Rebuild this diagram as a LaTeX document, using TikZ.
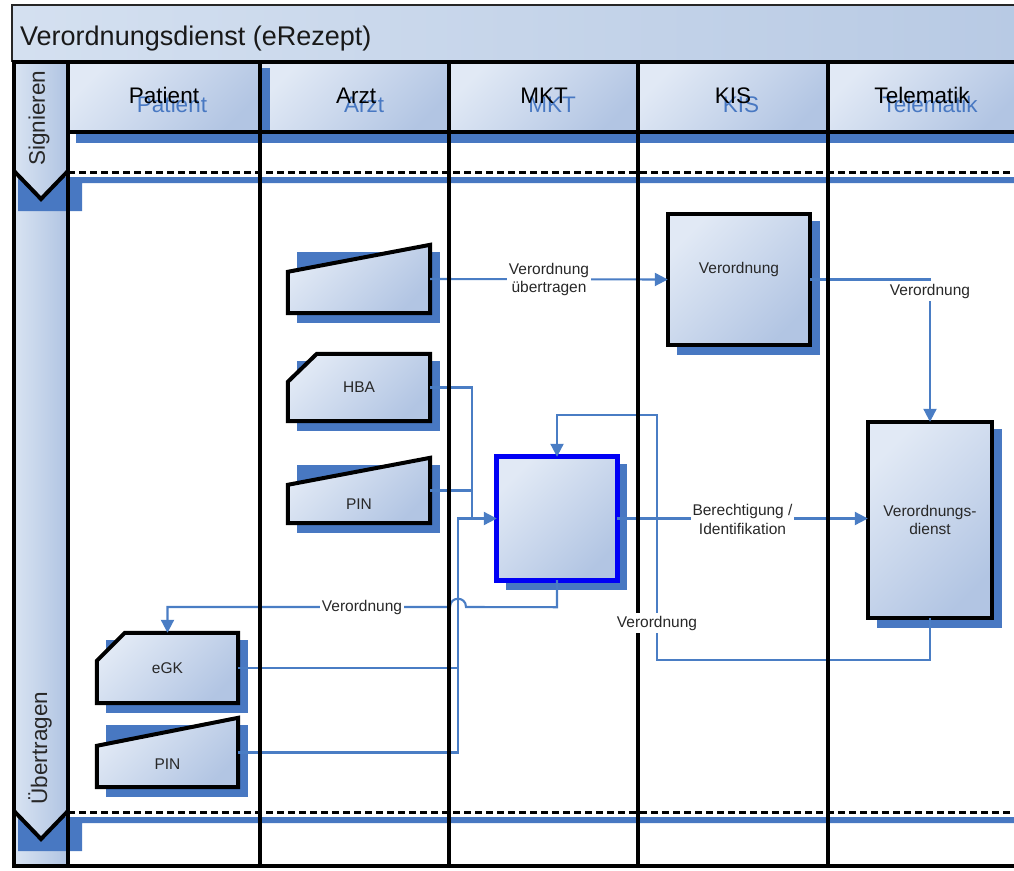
\documentclass[tikz,border=0pt]{standalone}
\usepackage{fontspec}
\setmainfont{Liberation Sans}
\usetikzlibrary{arrows.meta,calc}
\definecolor{wirec}{RGB}{74,125,196}
\definecolor{shad}{RGB}{72,120,194}
\definecolor{lite}{RGB}{225,233,245}
\definecolor{dark}{RGB}{178,197,227}
\definecolor{titl}{RGB}{212,224,240}
\definecolor{titr}{RGB}{184,202,228}
\definecolor{coll}{RGB}{216,227,242}
\definecolor{colr}{RGB}{176,196,226}
\definecolor{txt}{RGB}{40,40,40}
\definecolor{mktblue}{RGB}{0,0,245}
\pgfdeclarelayer{back}
\pgfdeclarelayer{connl}
\pgfdeclarelayer{lanes}
\pgfsetlayers{back,connl,lanes,main}
\tikzset{
  sbox/.style={inner sep=0pt, draw=none, font=\fontsize{15.5}{18.5}\selectfont, text=txt, align=center},
  shapefill/.style={top color=lite, bottom color=dark, shading angle=45, draw=black, line width=4pt, line join=miter},
  wire/.style={draw=wirec, line width=2.1pt},
  arr/.style={-{Triangle[length=13pt,width=13pt]}},
  lbl/.style={fill=white, font=\fontsize{15.5}{18.5}\selectfont, text=txt, inner xsep=1.5pt, inner ysep=2.5pt, align=center},
  htxt/.style={font=\fontsize{22.5}{24}\selectfont, inner sep=0pt},
  thickline/.style={line width=4pt, draw=black}
}
\begin{document}
\begin{tikzpicture}[x=1pt,y=-1pt]
\useasboundingbox (0,0) rectangle (1014,870);

% ---------- background structure ----------
\begin{pgfonlayer}{back}
  \shade[left color=titl, right color=titr] (12,5) rectangle (1018,62);
  \draw[line width=1.3pt, black!85] (12,62) -- (12,5) -- (1018,5);
  \foreach \a/\b in {68/260,260/449,449/638,638/828,828/1018}
    \shade[top color=lite, bottom color=dark, shading angle=45] (\a,62) rectangle (\b,133);
  \shade[left color=coll, right color=colr] (14,62) rectangle (68,866);
  \fill[shad] (76,133) rectangle (1018,143);
  \fill[shad] (258,68) rectangle (270,143);
  \fill[shad] (18,176) -- (41,200) -- (64,177) -- (1018,177) -- (1018,183) -- (82,183) -- (82,211) -- (18,211) -- cycle;
  \fill[shad] (18,816) -- (41,840) -- (64,817) -- (1018,817) -- (1018,823) -- (82,823) -- (82,851) -- (18,851) -- cycle;
  \draw[line width=3pt, dash pattern=on 7pt off 4pt] (68,172) -- (1018,172);
  \draw[line width=3pt, dash pattern=on 7pt off 4pt] (68,812) -- (1018,812);
  \draw[thickline] (14,171) -- (41,199) -- (68,171);
  \draw[thickline] (14,811) -- (41,839) -- (68,811);
  \draw[thickline] (12,62) -- (1018,62);
  \draw[thickline] (68,132) -- (1018,132);
  \draw[thickline] (14,62) -- (14,866);
  \draw[thickline] (12,866) -- (1018,866);
\end{pgfonlayer}

% ---------- titles ----------
\node[anchor=base west, inner sep=0pt, font=\fontsize{27}{30}\selectfont, text=black!90] (title) at (20,45) {Verordnungsdienst (eRezept)};
\foreach \n/\x in {Patient/164,Arzt/356,MKT/544,KIS/733,Telematik/922}{
  \node[htxt, anchor=base, text=shad] (hs\n) at (\x+8,112) {\n};
  \node[htxt, anchor=base, text=black] (h\n) at (\x,103) {\n};
}
\node[htxt, rotate=90, text=txt] (signieren) at (39,118) {Signieren};
\node[htxt, rotate=90, text=txt] (uebertragen) at (40,748) {Übertragen};

% ---------- shape nodes ----------
\node[sbox, minimum width=142pt, minimum height=68pt] (vin) at (359,279) {};
\node[sbox, minimum width=142pt, minimum height=67pt] (hba) at (359,387.5) {HBA};
\node[sbox, minimum width=142pt, minimum height=65pt, label={[sbox, yshift=-14pt]center:PIN}] (pina) at (359,490.5) {};
\node[sbox, minimum width=141pt, minimum height=70pt] (egk) at (167.5,668) {eGK};
\node[sbox, minimum width=141pt, minimum height=69pt, label={[sbox, yshift=-12pt]center:PIN}] (pinp) at (167.5,752.5) {};
\node[sbox, minimum width=142pt, minimum height=131pt, label={[sbox, yshift=10pt]center:Verordnung}] (kisv) at (739,279.5) {};
\node[sbox, minimum width=124pt, minimum height=196pt] (vd) at (930,520) {Verordnungs-\\dienst};
\node[sbox, minimum width=120pt, minimum height=123pt] (mkt) at (557,518.5) {};

\begin{pgfonlayer}{connl}
  % shadows
  \foreach \s in {vin,hba,pina,egk,pinp,kisv,vd,mkt}
    \fill[shad] ($(\s.north west)+(9,7)$) rectangle ($(\s.south east)+(10,10)$);
  % shapes
  \shadedraw[shapefill] (vin.south west) -- ($(vin.north west)+(0,27)$) -- (vin.north east) -- (vin.south east) -- cycle;
  \shadedraw[shapefill] (pina.south west) -- ($(pina.north west)+(0,27)$) -- (pina.north east) -- (pina.south east) -- cycle;
  \shadedraw[shapefill] (pinp.south west) -- ($(pinp.north west)+(0,28)$) -- (pinp.north east) -- (pinp.south east) -- cycle;
  \shadedraw[shapefill] (hba.south west) -- ($(hba.north west)+(0,28)$) -- ($(hba.north west)+(29,0)$) -- (hba.north east) -- (hba.south east) -- cycle;
  \shadedraw[shapefill] (egk.south west) -- ($(egk.north west)+(0,28)$) -- ($(egk.north west)+(28,0)$) -- (egk.north east) -- (egk.south east) -- cycle;
  \shadedraw[shapefill] (kisv.south west) rectangle (kisv.north east);
  \shadedraw[shapefill] (vd.south west) rectangle (vd.north east);
  \shadedraw[shapefill, draw=mktblue, line width=5pt] (mkt.south west) rectangle (mkt.north east);
  % connectors
  \draw[wire,arr] (vin.east) -- (kisv.west);
  \draw[wire,arr] (kisv.east) -- (kisv.east -| vd.north) -- (vd.north);
  \draw[wire] (hba.east) -| (472,518.5);
  \draw[wire] (pina.east) -- (472,490.5);
  \draw[wire,arr] (egk.east) -- (458,668) -- (458,518.5) -- (mkt.west);
  \draw[wire] (pinp.east) -- (458,752.5) -- (458,668);
  \draw[wire,arr] (mkt.east) -- (mkt.east -| vd.west);
  \draw[wire,arr] (vd.south) -- ++(0,42) -| (657,415) -| (mkt.north);
  \draw[wire,arr] (mkt.south) -- ++(0,27) -- (466,607) .. controls (466,596) and (450,596) .. (450,607) -- (167.5,607) -- (egk.north);
\end{pgfonlayer}

% ---------- lane lines ----------
\begin{pgfonlayer}{lanes}
  \foreach \x in {68,260,449,638,828}
    \draw[thickline] (\x,62) -- (\x,866);
\end{pgfonlayer}

% ---------- connector labels ----------
\node[lbl] (l1) at ($(vin.east)!0.5!(kisv.west)$) {Verordnung\\übertragen};
\node[lbl] (l2) at (930,291) {Verordnung};
\node[lbl] (l3) at ($(mkt.east)!0.5!(vd.west)$) {Berechtigung /\\Identifikation};
\node[lbl] (l4) at (657,623) {Verordnung};
\node[lbl] (l5) at (362,607) {Verordnung};
\end{tikzpicture}
\end{document}
